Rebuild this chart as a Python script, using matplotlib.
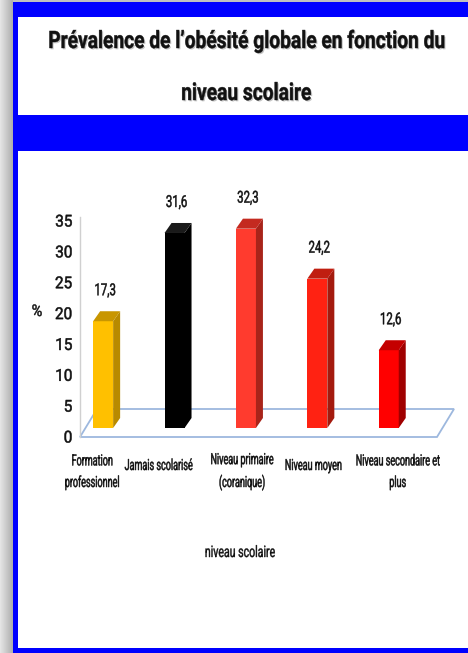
import matplotlib
matplotlib.use("Agg")
import matplotlib.pyplot as plt
import matplotlib.patheffects as pe
from matplotlib import transforms
from matplotlib.transforms import Affine2D
from matplotlib.patches import Rectangle, Polygon
import numpy as np

# Donnees du graphique
categories = ["Formation\nprofessionnel", "Jamais scolarisé", "Niveau primaire\n(coranique)",
              "Niveau moyen", "Niveau secondaire et\nplus"]
valeurs = [17.3, 31.6, 32.3, 24.2, 12.6]
etiquettes = ["17,3", "31,6", "32,3", "24,2", "12,6"]
graduations = [0, 5, 10, 15, 20, 25, 30, 35]

# Couleurs des barres: face avant, cote, dessus
couleurs_face = ["#FFC000", "#000000", "#FF3B2E", "#FF2212", "#FF0000"]
couleurs_cote = ["#B88A00", "#000000", "#A8241A", "#A41A0E", "#A00000"]
couleurs_dessus = ["#C89600", "#1A1A1A", "#C42A20", "#C01E10", "#C40000"]

# Decalage horizontal des libelles sous l'axe (pixels)
decal_libelles = [-5, -10, 2, 2, 15]

BLEU = "#0000FF"
NOIR = "#111111"
W, H = 468, 653
POLICE = "Roboto"


class Etire(pe.AbstractPathEffect):
    """Allonge le texte verticalement autour de sa ligne de base (police etroite)."""

    def __init__(self, k, gras=0.0, ombre=None):
        super().__init__()
        self.k = k
        self.gras = gras
        self.ombre = ombre

    def draw_path(self, renderer, gc, tpath, affine, rgbFace=None):
        y0 = affine.transform((0, 0))[1]
        aff = affine + Affine2D().translate(0, -y0).scale(1, self.k).translate(0, y0)
        if self.ombre is not None:
            gc0 = renderer.new_gc()
            gc0.copy_properties(gc)
            gc0.set_alpha(0.45)
            gc0.set_linewidth(0)
            renderer.draw_path(gc0, tpath, aff + Affine2D().translate(1.3, -1.3),
                               matplotlib.colors.to_rgb(self.ombre))
            gc0.restore()
        gc1 = renderer.new_gc()
        gc1.copy_properties(gc)
        gc1.set_linewidth(self.gras)
        renderer.draw_path(gc1, tpath, aff, rgbFace)
        gc1.restore()


fig = plt.figure(figsize=(W / 100, H / 100), dpi=100)
fig.patch.set_facecolor("white")


def fx(x):
    return x / W


def fy(y):
    return 1 - y / H


def rect(x0, y0, x1, y1, couleur):
    fig.add_artist(Rectangle((fx(x0), fy(y1)), fx(x1 - x0), (y1 - y0) / H,
                             transform=fig.transFigure, facecolor=couleur,
                             edgecolor="none", zorder=0))


# Ombre grise a gauche
ax_ombre = fig.add_axes([0, 0, fx(13), 1])
degrade = np.linspace(0.9, 0.68, 50).reshape(1, -1)
ax_ombre.imshow(degrade, cmap="gray", vmin=0, vmax=1, aspect="auto")
ax_ombre.axis("off")

# Cadre bleu et bandeaux
rect(13, 0, W, H, BLEU)
rect(13, 0, W, 2, "#C0C0C0")
rect(18, 17, W, 115, "white")
rect(18, 151, W, 648, "white")

# Titre sur deux lignes
titre = ["Prévalence de l\u2019obésité globale en fonction du", "niveau scolaire"]
for ligne, yb in zip(titre, [48, 100]):
    fig.text(fx(246), fy(yb), ligne, ha="center", va="baseline", fontsize=13.8,
             fontweight="bold", color=NOIR, family=POLICE,
             path_effects=[Etire(1.25, gras=0.3, ombre="#808080")])

# Zone du graphique (plan avant du sol)
x_gauche, x_droite, y_zero, y_haut = 80, 437, 437, 221
ax = fig.add_axes([fx(x_gauche), fy(y_zero), fx(x_droite - x_gauche), (y_zero - y_haut) / H])
ax.set_xlim(-0.24, 4.76)
ax.set_ylim(0, 35)
ax.patch.set_alpha(0)
for s in ax.spines.values():
    s.set_visible(False)

ux = 5.0 / (x_droite - x_gauche)   # unites par pixel en x
uy = 35.0 / (y_zero - y_haut)      # unites par pixel en y

# Sol en perspective
prof_x, prof_y = 17, 28
sol = Polygon([(-0.24, 0), (4.76, 0), (4.76 + prof_x * ux, prof_y * uy),
               (-0.24 + prof_x * ux, prof_y * uy)], closed=True, fill=False,
              edgecolor="#9DB8DE", linewidth=1.3, clip_on=False, zorder=1)
ax.add_patch(sol)
ax.plot([-0.24, -0.24], [0, 35.6], color="#D0D0D0", linewidth=1, clip_on=False, zorder=1)

# Barres 3D decalees vers le fond
decale = transforms.offset_copy(ax.transData, fig=fig, x=6, y=9, units="dots")
x = np.arange(len(valeurs))
largeur = 0.28
dx, dy = 7 * ux, 10 * uy
ax.bar(x, valeurs, width=largeur, color=couleurs_face, transform=decale, zorder=3, clip_on=False)
for xi, v, cc, cd in zip(x, valeurs, couleurs_cote, couleurs_dessus):
    d = xi + largeur / 2
    g = xi - largeur / 2
    ax.add_patch(Polygon([(d, 0), (d + dx, dy), (d + dx, v + dy), (d, v)], closed=True,
                         facecolor=cc, edgecolor="none", transform=decale, zorder=3, clip_on=False))
    ax.add_patch(Polygon([(g, v), (g + dx, v + dy), (d + dx, v + dy), (d, v)], closed=True,
                         facecolor=cd, edgecolor="none", transform=decale, zorder=3, clip_on=False))

# Valeurs au-dessus des barres
for xi, v, txt in zip(x, valeurs, etiquettes):
    ax.annotate(txt, xy=(xi, v), xytext=(8, 35), textcoords="offset pixels",
                ha="center", va="baseline", fontsize=8.2, color=NOIR, family=POLICE,
                path_effects=[Etire(1.45, gras=0.35)])

# Graduations de l'axe vertical
ax.set_yticks(graduations)
ax.set_yticklabels([str(g) for g in graduations], fontsize=11, color=NOIR, family=POLICE)
for t in ax.get_yticklabels():
    t.set_path_effects([Etire(1.07, gras=0.4)])
ax.tick_params(axis="y", length=0, pad=5.5)
ax.set_xticks([])

# Libelles des categories (ligne de base de la derniere ligne)
mixte = transforms.blended_transform_factory(ax.transData, fig.transFigure)
for xi, lib, dxl in zip(x, categories, decal_libelles):
    yb = 487 if "\n" in lib else 470
    tr = transforms.offset_copy(mixte, fig=fig, x=dxl, y=0, units="dots")
    ax.text(xi, fy(yb), lib, transform=tr, ha="center", va="baseline", ma="center",
            fontsize=6.5, linespacing=2.8, color=NOIR, family=POLICE,
            path_effects=[Etire(1.7, gras=0.35)])

fig.text(fx(37), fy(312), "%", ha="center", va="center", fontsize=10.5, color=NOIR,
         family=POLICE, path_effects=[Etire(1.1, gras=0.35)])
fig.text(fx(240), fy(557), "niveau scolaire", ha="center", va="baseline", fontsize=7.6,
         color=NOIR, family=POLICE, path_effects=[Etire(1.5, gras=0.3)])

fig.savefig("out.png", dpi=100)
